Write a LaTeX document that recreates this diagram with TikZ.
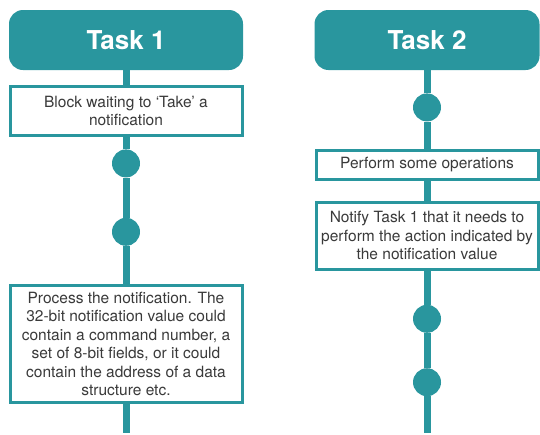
\documentclass[tikz,border=0pt]{standalone}
\usepackage{fontspec}
\setmainfont{TeX Gyre Heros}
\usetikzlibrary{positioning}
\definecolor{tealA}{RGB}{41,150,158}
\definecolor{ink}{RGB}{58,58,58}
\tikzset{head/.style={rounded corners=14pt, fill=tealA, text=white, inner sep=0pt,
  minimum height=60pt, font=\fontsize{26}{30}\selectfont\bfseries}}
\tikzset{box/.style={draw=tealA, line width=3pt, fill=white, text=ink, align=center,
  inner sep=0pt, font=\fontsize{15.5}{18.5}\selectfont}}
\tikzset{bead/.style={circle, fill=tealA, minimum size=28pt, inner sep=0pt}}
\tikzset{stem/.style={tealA, line width=7pt}}

\begin{document}
\begin{tikzpicture}[x=1pt, y=-1pt]
\useasboundingbox (0,0) rectangle (540,434);
% task 1
\draw node(t1) [head, minimum width=234pt] at (126,40) {Task 1};
\draw node(wait) [box, minimum width=232pt, minimum height=49pt, below=15pt of t1] {Block waiting to `Take' a\\notification};
\draw node(b1) [bead, below=12pt of wait] {};
\draw node(b2) [bead, below=40pt of b1] {};
\draw node(proc) [box, minimum width=232pt, minimum height=117pt, below=38pt of b2] {Process the notification. The\\32-bit notification value could\\contain a command number, a\\set of 8-bit fields, or it could\\contain the address of a data\\structure etc.};
\coordinate (e1) at ([yshift=-29pt]proc.south);
% task 2
\draw node(t2) [head, minimum width=225pt] at (427,40) {Task 2};
\draw node(b3) [bead, below=23pt of t2] {};
\draw node(ops) [box, minimum width=222pt, minimum height=29pt, below=27pt of b3] {Perform some operations};
\draw node(notify) [box, minimum width=222pt, minimum height=67pt, below=20pt of ops] {Notify Task 1 that it needs to\\perform the action indicated by\\the notification value};
\draw node(b4) [bead, below=34pt of notify] {};
\draw node(b5) [bead, below=35pt of b4] {};
\coordinate (e2) at ([yshift=-37pt]b5.south);
\foreach \a/\b in {t1/wait, wait/b1, b1/b2, b2/proc, proc/e1, t2/b3, b3/ops, ops/notify, notify/b4, b4/b5, b5/e2}
  \draw[stem] (\a) -- (\b);
\end{tikzpicture}
\end{document}
